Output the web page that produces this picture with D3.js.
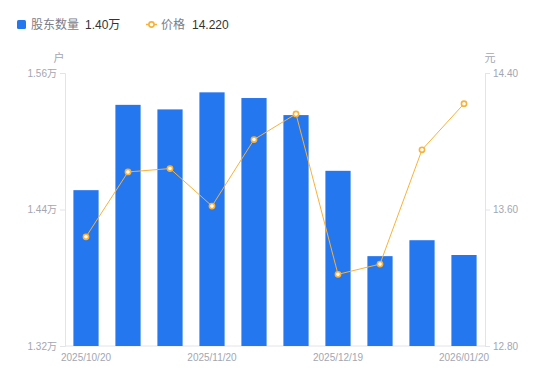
<!DOCTYPE html>
<html>
<head>
<meta charset="utf-8">
<script src="https://cdn.jsdelivr.net/npm/d3@7"></script>
<style>
  body { margin: 0; background: #fff; font-family: "Liberation Sans", "Noto Sans CJK SC", sans-serif; }
</style>
</head>
<body>
<div class="chart"></div>
<script>
const dates = ['2025/10/20', '2025/10/31', '2025/11/10', '2025/11/20', '2025/11/28', '2025/12/10', '2025/12/19', '2025/12/31', '2026/01/09', '2026/01/20'];
const holders = [1.457, 1.532, 1.528, 1.543, 1.538, 1.523, 1.474, 1.399, 1.413, 1.400];
const prices = [13.44, 13.82, 13.84, 13.62, 14.01, 14.16, 13.22, 13.28, 13.95, 14.22];
const leftTicks = [1.32, 1.44, 1.56];
const rightTicks = [12.80, 13.60, 14.40];
const shownDates = ['2025/10/20', '2025/11/20', '2025/12/19', '2026/01/20'];

const width = 550;
const height = 381;
const plotLeft = 65, plotRight = 485, plotTop = 73, plotBottom = 346;
const barColor = '#2577f0';
const lineColor = '#f8b238';
const tickColor = '#a3a6b1';
const axisColor = '#e3e4e8';

const svg = d3.select('.chart')
  .append('svg')
  .attr('width', width)
  .attr('height', height);

const xScale = d3.scaleBand()
  .domain(dates)
  .range([plotLeft, plotRight])
  .paddingInner(0.4)
  .paddingOuter(0.2);
const xPoint = d => xScale(d) + xScale.bandwidth() / 2;

const yLeft = d3.scaleLinear().domain([1.32, 1.56]).range([plotBottom, plotTop]);
const yRight = d3.scaleLinear().domain([12.8, 14.4]).range([plotBottom, plotTop]);

// axes
const leftAxis = d3.axisLeft(yLeft).tickValues(leftTicks).tickSize(5).tickPadding(3)
  .tickFormat(d => d.toFixed(2) + '万');
const rightAxis = d3.axisRight(yRight).tickValues(rightTicks).tickSize(5).tickPadding(3)
  .tickFormat(d => d.toFixed(2));
const bottomAxis = d3.axisBottom(xScale).tickValues(shownDates).tickSize(0).tickPadding(8);

function styleAxis(g) {
  g.select('.domain').attr('stroke', axisColor);
  g.selectAll('.tick line').attr('stroke', axisColor);
  g.selectAll('.tick text').attr('fill', tickColor).style('font-size', '10px')
    .style('font-family', '"Liberation Sans", "Noto Sans CJK SC", sans-serif');
}

svg.append('g').attr('transform', `translate(${plotLeft},0)`).call(leftAxis).call(styleAxis);
svg.append('g').attr('transform', `translate(${plotRight},0)`).call(rightAxis).call(styleAxis);
const xg = svg.append('g').attr('transform', `translate(0,${plotBottom})`).call(bottomAxis).call(styleAxis);
xg.select('.domain').remove();
svg.append('line')
  .attr('x1', plotLeft).attr('x2', plotRight)
  .attr('y1', plotBottom).attr('y2', plotBottom)
  .attr('stroke', axisColor);

// axis names
svg.append('text').attr('x', 59).attr('y', 62).attr('text-anchor', 'middle')
  .attr('fill', tickColor).style('font-size', '11px').text('户');
svg.append('text').attr('x', 490).attr('y', 62).attr('text-anchor', 'middle')
  .attr('fill', tickColor).style('font-size', '11px').text('元');

// bars
svg.selectAll('rect.bar')
  .data(holders)
  .enter()
  .append('rect')
  .attr('class', 'bar')
  .attr('x', (d, i) => xScale(dates[i]))
  .attr('y', d => yLeft(d))
  .attr('width', xScale.bandwidth())
  .attr('height', d => plotBottom - yLeft(d))
  .attr('fill', barColor);

// price line
const line = d3.line()
  .x((d, i) => xPoint(dates[i]))
  .y(d => yRight(d));

svg.append('path')
  .datum(prices)
  .attr('d', line)
  .attr('fill', 'none')
  .attr('stroke', lineColor)
  .attr('stroke-width', 1);

svg.selectAll('circle.pt')
  .data(prices)
  .enter()
  .append('circle')
  .attr('class', 'pt')
  .attr('cx', (d, i) => xPoint(dates[i]))
  .attr('cy', d => yRight(d))
  .attr('r', 2.6)
  .attr('fill', '#fff')
  .attr('stroke', lineColor)
  .attr('stroke-width', 1.6);

// legend
const legend = svg.append('g');
legend.append('rect').attr('x', 17).attr('y', 20).attr('width', 9).attr('height', 9)
  .attr('rx', 1.5).attr('fill', barColor);
legend.append('text').attr('x', 31).attr('y', 29).attr('fill', '#7a7d88')
  .style('font-size', '12px').text('股东数量');
legend.append('text').attr('x', 85).attr('y', 29).attr('fill', '#333')
  .style('font-size', '12px').text(holders[holders.length - 1].toFixed(2) + '万');

legend.append('line').attr('x1', 146).attr('x2', 157).attr('y1', 24.5).attr('y2', 24.5)
  .attr('stroke', lineColor).attr('stroke-width', 1.5);
legend.append('circle').attr('cx', 151.5).attr('cy', 24.5).attr('r', 2.6)
  .attr('fill', '#fff').attr('stroke', lineColor).attr('stroke-width', 1.6);
legend.append('text').attr('x', 161).attr('y', 29).attr('fill', '#7a7d88')
  .style('font-size', '12px').text('价格');
legend.append('text').attr('x', 192).attr('y', 29).attr('fill', '#333')
  .style('font-size', '12px').text(prices[prices.length - 1].toFixed(3));
</script>
</body>
</html>
